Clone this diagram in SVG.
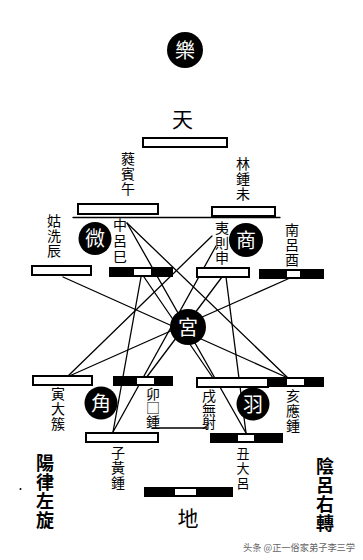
<svg xmlns="http://www.w3.org/2000/svg" width="363" height="560" viewBox="0 0 363 560">
<style>
.bg{fill:#fff}
.bar{fill:#fff;stroke:#000;stroke-width:2}
.blk{fill:#000}
.ins{fill:#fff}
.ln{stroke:#000;stroke-width:1.3;fill:none;stroke-linecap:round}
.v{font-family:"Noto Sans CJK TC","Noto Sans CJK SC",sans-serif;font-size:14px;fill:#000;writing-mode:vertical-rl;letter-spacing:1px}
.big{font-family:"Noto Sans CJK TC","Noto Sans CJK SC",sans-serif;font-size:18px;font-weight:bold;fill:#000;writing-mode:vertical-rl;letter-spacing:1px}
.ttl{font-family:"Noto Sans CJK TC","Noto Sans CJK SC",sans-serif;font-size:21px;text-anchor:middle;fill:#000}
.dot{fill:#000}
.cw{font-family:"Noto Sans CJK TC","Noto Sans CJK SC",sans-serif;font-size:20px;text-anchor:middle;fill:#fff}
.wm{font-family:"Noto Sans CJK SC",sans-serif;font-size:9.5px;fill:#666}
</style>
<rect class="bg" x="0" y="0" width="363" height="560"/>

<g id="connectors">
<path class="ln" d="M216 246 L113 432"/>
<path class="ln" d="M212 236 L67 377"/>
<path class="ln" d="M67 377 L290 278"/>
<path class="ln" d="M73 217.5 L280 217.5"/>
<path class="ln" d="M63 277 L288 378"/>
<path class="ln" d="M288 378 L127 223"/>
<path class="ln" d="M127 223 L246 433"/>
<path class="ln" d="M246 433 L226 277"/>
<path class="ln" d="M222 277 L146 378"/>
<path class="ln" d="M152 428 L207 428"/>
<path class="ln" d="M213 378 L144 277"/>
<path class="ln" d="M141 277 L113 432"/>
</g>

<g id="yue">
<circle cx="185" cy="50" r="18" class="dot"/>
<text class="cw" x="185" y="58" font-size="22">樂</text>
</g>

<g id="tian">
<text class="ttl" x="182.5" y="127">天</text>
<rect class="bar" x="143" y="138" width="84" height="9"/>
</g>

<g id="ruibin">
<text class="v" x="128" y="152">蕤賓午</text>
<rect class="bar" x="78" y="204" width="80" height="10"/>
</g>

<g id="linzhong">
<text class="v" x="243" y="157">林鍾未</text>
<rect class="bar" x="212" y="207" width="63" height="9"/>
</g>

<g id="guxian">
<text class="v" x="54" y="214">姑洗辰</text>
<rect class="bar" x="32" y="266" width="59" height="9"/>
</g>

<g id="zhonglv">
<text class="v" x="120" y="218" style="letter-spacing:2px">中呂巳</text>
<rect class="blk" x="109" y="267" width="64" height="10"/>
<rect class="ins" x="134" y="269" width="17" height="6"/>
</g>

<g id="yize">
<text class="v" x="222" y="221">夷則申</text>
<rect class="bar" x="197" y="268" width="52" height="9"/>
</g>

<g id="nanlv">
<text class="v" x="292" y="223">南呂酉</text>
<rect class="blk" x="259" y="269" width="65" height="10"/>
<rect class="ins" x="287" y="271" width="13" height="6"/>
</g>

<g id="zhi">
<circle cx="95" cy="238.5" r="16.5" class="dot"/>
<text class="cw" x="95" y="246">微</text>
</g>

<g id="shang">
<circle cx="246" cy="240" r="17" class="dot"/>
<text class="cw" x="246" y="247.5">商</text>
</g>

<g id="gong">
<circle cx="188" cy="327" r="18" class="dot"/>
<text class="cw" x="188" y="334.5">宮</text>
</g>

<g id="taicu">
<rect class="bar" x="33" y="376" width="59" height="9"/>
<text class="v" x="58" y="387">寅大簇</text>
</g>

<g id="jiazhong">
<rect class="blk" x="113" y="376" width="60" height="10"/>
<rect class="ins" x="137" y="378" width="17" height="6"/>
<text class="v" x="153" y="387" style="letter-spacing:0">卯□鍾</text>
</g>

<g id="wuyi">
<rect class="bar" x="197" y="378" width="71" height="9"/>
<text class="v" x="209" y="389" style="letter-spacing:-0.5px">戌無射</text>
</g>

<g id="yingzhong">
<rect class="blk" x="267" y="377" width="57" height="10"/>
<rect class="ins" x="287" y="379" width="17" height="6"/>
<text class="v" x="293" y="389">亥應鍾</text>
</g>

<g id="jiao">
<circle cx="101" cy="403" r="16.5" class="dot"/>
<text class="cw" x="101" y="410.5">角</text>
</g>

<g id="yu">
<circle cx="253" cy="404" r="16.5" class="dot"/>
<text class="cw" x="253" y="411.5">羽</text>
</g>

<g id="huangzhong">
<rect class="bar" x="86" y="433" width="72" height="9"/>
<text class="v" x="118" y="446">子黃鍾</text>
</g>

<g id="dalv">
<rect class="blk" x="210" y="433" width="73" height="10"/>
<rect class="ins" x="238" y="435" width="16" height="6"/>
<text class="v" x="243" y="447" style="font-size:13px;letter-spacing:2px">丑大呂</text>
</g>

<g id="yanglv">
<text class="big" x="45" y="454">陽律左旋</text>
</g>

<g id="yinlv">
<text class="big" x="325" y="457">陰呂右轉</text>
</g>

<g id="di">
<rect class="blk" x="144" y="487" width="89" height="10"/>
<rect class="ins" x="175" y="489" width="21" height="6"/>
<text class="ttl" x="188" y="526">地</text>
</g>

<circle cx="20.5" cy="489" r="1" class="dot"/>
<text class="wm" x="243" y="551" textLength="112" lengthAdjust="spacingAndGlyphs">头条 @正一俗家弟子李三学</text>
</svg>
